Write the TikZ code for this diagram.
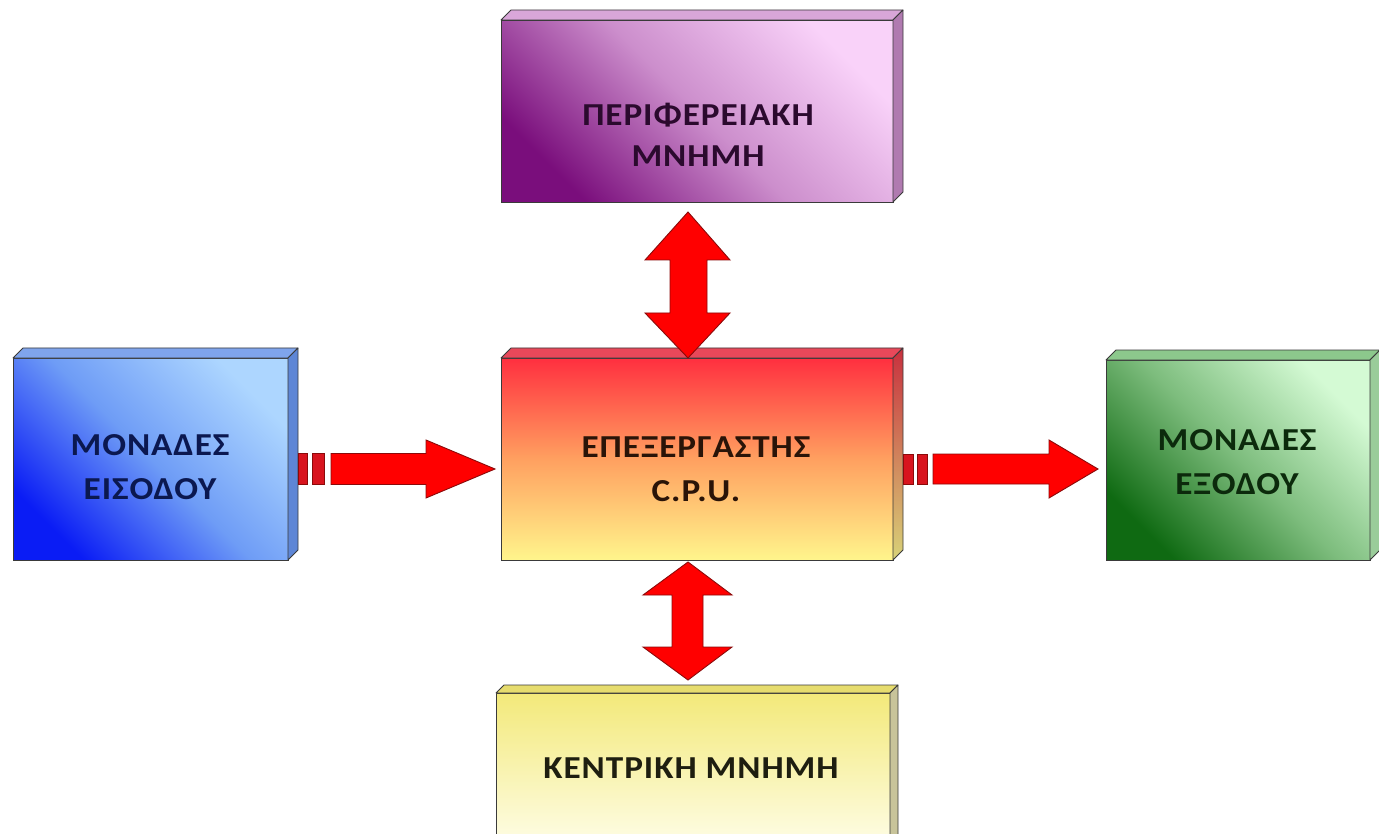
\documentclass[tikz,border=0pt]{standalone}
\usepackage{fontspec}
\setmainfont{Carlito}[FakeStretch=1.1, LetterSpace=3]
\usetikzlibrary{calc}
\definecolor{edge}{HTML}{3A3A3A}
\definecolor{perL}{HTML}{F9D2F9}
\definecolor{perM}{HTML}{CC8ECC}
\definecolor{perD}{HTML}{7A0E7C}
\definecolor{perBevel}{HTML}{D9A6D9}
\definecolor{perSide}{HTML}{B07AB0}
\definecolor{inL}{HTML}{ADD6FF}
\definecolor{inM}{HTML}{6E9CF6}
\definecolor{inD}{HTML}{0A1CF5}
\definecolor{inBevel}{HTML}{7FA4EC}
\definecolor{inSide}{HTML}{5E86D6}
\definecolor{cpuTop}{HTML}{FF2F3F}
\definecolor{cpuMid}{HTML}{FFA060}
\definecolor{cpuBot}{HTML}{FFF58C}
\definecolor{cpuBevel}{HTML}{E8485A}
\definecolor{cpuSideT}{HTML}{C8303E}
\definecolor{cpuSideB}{HTML}{D8D278}
\definecolor{outL}{HTML}{D4FAD4}
\definecolor{outM}{HTML}{7CBC7C}
\definecolor{outD}{HTML}{0F6A12}
\definecolor{outBevel}{HTML}{8CC88C}
\definecolor{outSide}{HTML}{9ACC9A}
\definecolor{botT}{HTML}{F3E97A}
\definecolor{botB}{HTML}{FFFFF2}
\definecolor{botBevel}{HTML}{E6DC6E}
\definecolor{botSide}{HTML}{C8C49A}
\definecolor{arrowred}{HTML}{FF0000}
\definecolor{arrowedge}{HTML}{8B0A0A}
\definecolor{stripred}{HTML}{D8141E}
\definecolor{txtPer}{HTML}{2B0A2E}
\definecolor{txtIn}{HTML}{0B1850}
\definecolor{txtCpu}{HTML}{2A1408}
\definecolor{txtOut}{HTML}{0C2A0C}
\definecolor{txtBot}{HTML}{1E1E10}
\tikzset{
  front/.style={draw=edge, line width=0.8pt, inner sep=0pt, outer sep=0pt},
  bevel/.style={draw=edge, line width=0.8pt, line join=round},
  lbl/.style={font=\fontsize{32}{44}\selectfont\bfseries, align=center, inner sep=0pt},
  blockarrow/.style={fill=arrowred, draw=arrowedge, line width=0.9pt, line join=miter},
  strip/.style={fill=stripred, draw=arrowedge, line width=0.7pt},
}
\newcommand\boxextrude[4]{%
  \draw[bevel, #3] (#1.north west) -- ++(#2,-#2) -- ($(#1.north east)+(#2,-#2)$) -- (#1.north east) -- cycle;
  \draw[bevel, #4] (#1.north east) -- ++(#2,-#2) -- ($(#1.south east)+(#2,-#2)$) -- (#1.south east) -- cycle;
}
\begin{document}
\begin{tikzpicture}[x=1pt,y=-1pt]
\useasboundingbox (0,0) rectangle (1379,834);
\clip (0,0) rectangle (1379,834);
% boxes
\node[front, minimum width=392pt, minimum height=182pt, top color=perL, bottom color=perD, middle color=perM, shading angle=-45] (per) at (697,111) {};
\boxextrude{per}{10}{fill=perBevel}{fill=perSide}
\node[front, minimum width=275pt, minimum height=202pt, top color=inL, bottom color=inD, middle color=inM, shading angle=-45] (in) at (150.5,459) {};
\boxextrude{in}{10}{fill=inBevel}{fill=inSide}
\node[front, minimum width=392pt, minimum height=202pt, top color=cpuTop, bottom color=cpuBot, middle color=cpuMid] (cpu) at (697,459) {};
\boxextrude{cpu}{10}{fill=cpuBevel}{top color=cpuSideT, bottom color=cpuSideB}
\node[front, minimum width=264pt, minimum height=200pt, top color=outL, bottom color=outD, middle color=outM, shading angle=-45] (out) at (1238,460) {};
\boxextrude{out}{10}{fill=outBevel}{fill=outSide}
\node[front, minimum width=394pt, minimum height=170pt, top color=botT, bottom color=botB] (bot) at (693,778) {};
\boxextrude{bot}{8}{fill=botBevel}{fill=botSide}
% labels
\node[lbl, font=\fontsize{32}{41}\selectfont\bfseries, text=txtPer] (perlbl) at (698,134.5) {ΠΕΡΙΦΕΡΕΙΑΚΗ\\ΜΝΗΜΗ};
\node[lbl, text=txtIn] (inlbl) at (150,467.5) {ΜΟΝΑΔΕΣ\\ΕΙΣΟΔΟΥ};
\node[lbl, text=txtCpu] (cpulbl) at (696,469) {ΕΠΕΞΕΡΓΑΣΤΗΣ\\C.P.U.};
\node[lbl, text=txtOut] (outlbl) at (1237,462) {ΜΟΝΑΔΕΣ\\ΕΞΟΔΟΥ};
\node[lbl, text=txtBot] (botlbl) at (691,768) {ΚΕΝΤΡΙΚΗ ΜΝΗΜΗ};
% top double arrow
\coordinate (ta) at ($(per.south)+(-9,10)$);
\coordinate (tb) at ($(cpu.north)+(-9,0)$);
\draw[blockarrow] (ta) -- ($(ta)+(42,48)$) -- ($(ta)+(19,48)$) -- ($(tb)+(19,-45)$) -- ($(tb)+(42,-45)$) -- (tb) -- ($(tb)+(-43,-45)$) -- ($(tb)+(-18,-45)$) -- ($(ta)+(-18,48)$) -- ($(ta)+(-43,48)$) -- cycle;
% bottom double arrow
\coordinate (ba) at ($(cpu.south)+(-9,2)$);
\coordinate (bb) at ($(bot.north)+(-5,-13)$);
\draw[blockarrow] (ba) -- ($(ba)+(44,33)$) -- ($(ba)+(15,33)$) -- ($(bb)+(15,-33)$) -- ($(bb)+(44,-33)$) -- (bb) -- ($(bb)+(-45,-33)$) -- ($(bb)+(-16,-33)$) -- ($(ba)+(-16,33)$) -- ($(ba)+(-45,33)$) -- cycle;
% left arrow
\coordinate (la) at ($(in.east)+(10,10)$);
\coordinate (lb) at ($(cpu.west)+(-6,10)$);
\draw[strip] ($(la)+(0,-15.5)$) rectangle ($(la)+(9,15.5)$);
\draw[strip] ($(la)+(14,-15.5)$) rectangle ($(la)+(26,15.5)$);
\draw[blockarrow] ($(la)+(33,-15.5)$) -- ($(lb)+(-69,-15.5)$) -- ($(lb)+(-69,-29)$) -- (lb) -- ($(lb)+(-69,29)$) -- ($(lb)+(-69,15.5)$) -- ($(la)+(33,15.5)$) -- cycle;
% right arrow
\coordinate (ra) at ($(cpu.east)+(10,10)$);
\coordinate (rb) at ($(out.west)+(-8,9)$);
\draw[strip] ($(ra)+(0,-15)$) rectangle ($(ra)+(10,15)$);
\draw[strip] ($(ra)+(14,-15)$) rectangle ($(ra)+(24,15)$);
\draw[blockarrow] ($(ra)+(30,-15)$) -- ($(rb)+(-49,-15)$) -- ($(rb)+(-49,-29)$) -- (rb) -- ($(rb)+(-49,29)$) -- ($(rb)+(-49,15)$) -- ($(ra)+(30,15)$) -- cycle;
\end{tikzpicture}
\end{document}
